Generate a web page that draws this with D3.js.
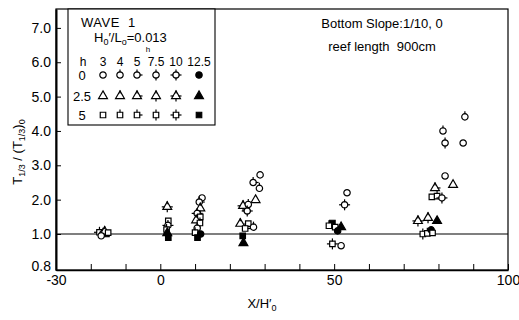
<!DOCTYPE html>
<html>
<head>
<meta charset="utf-8">
<script src="https://cdn.jsdelivr.net/npm/d3@7"></script>
<style>
  body { margin: 0; background: #fff; }
  svg { font-family: "Liberation Sans", Arial, sans-serif; }
  .axis path, .axis line { stroke: #000; }
  .axis text { font-size: 14px; fill: #000; }
</style>
</head>
<body>
<div id="chart"></div>
<script>
// plot frame in page pixels
var plotLeft = 56, plotRight = 508, plotTop = 9, plotBottom = 270

// tick labels
var xTickValues = [-30, -20, -10, 0, 10, 20, 30, 40, 50, 60, 70, 80, 90, 100]
var xTickLabels = { "-30": "-30", "0": "0", "50": "50", "100": "100" }
var yTickValues = [0.8, 1, 2, 3, 4, 5, 6, 7]
var yTickLabels = ["0.8", "1.0", "2.0", "3.0", "4.0", "5.0", "6.0", "7.0"]

// legend categories: rows = h (shape), columns = h (mark style)
var rowLabels = ["0", "2.5", "5"]
var colLabels = ["3", "4", "5", "7.5", "10", "12.5"]

// data: X/H0', T1/3/(T1/3)0, row index, column index
var xVals = [
  -17.5, -16.5, -15.5, -16, -17, -15,
  2, 2.3, 2.2, 1.8, 2, 2.3,
  12, 11.2, 11.5, 10.6, 11.5, 10.3, 11.4, 10.6, 10, 11.6, 10.7,
  28.7, 26.7, 28.5, 27.4, 23.8, 25.3, 25, 23, 25.3, 26.8, 24.4, 23.7, 23.9,
  53.7, 53, 49.5, 48.5, 50.3, 52, 51, 49.5, 52,
  87.6, 81.3, 81.9, 87.1, 81.9, 84.2, 79, 78.1, 79.6, 81, 74.1, 77, 79.6, 75.5, 76.8, 77.9, 78.3
]
var yVals = [
  1.05, 1.02, 1.0, 1.07, 0.99, 1.04,
  1.79, 1.38, 1.25, 1.13, 1.03, 0.98,
  2.05, 1.93, 1.75, 1.6, 1.5, 1.4, 1.32, 1.17, 1.04, 1.0, 0.98,
  2.72, 2.5, 2.33, 1.99, 1.82, 1.86, 1.67, 1.3, 1.3, 1.2, 1.16, 0.99, 0.95,
  2.2, 1.85, 1.32, 1.24, 1.2, 1.2, 1.09, 0.945, 0.935,
  4.41, 4.0, 3.65, 3.65, 2.69, 2.43, 2.34, 2.08, 2.1, 2.05, 1.38, 1.47, 1.38, 1.0, 1.02, 1.12, 1.03
]
var rowIdx = [
  2, 0, 2, 1, 0, 2,
  1, 2, 0, 2, 1, 2,
  0, 0, 1, 0, 2, 1, 2, 0, 2, 0, 2,
  0, 0, 0, 1, 1, 0, 0, 1, 2, 0, 2, 2, 1,
  0, 0, 2, 2, 2, 1, 0, 2, 0,
  0, 0, 0, 0, 0, 1, 1, 2, 2, 0, 1, 1, 1, 2, 2, 0, 2
]
var colIdx = [
  4, 2, 5, 3, 0, 0,
  4, 0, 4, 3, 5, 5,
  0, 2, 3, 4, 0, 1, 3, 3, 1, 5, 5,
  0, 2, 1, 0, 4, 3, 4, 1, 0, 1, 2, 5, 5,
  0, 4, 5, 1, 0, 5, 5, 4, 0,
  1, 1, 3, 0, 0, 0, 2, 0, 1, 4, 4, 3, 5, 3, 1, 5, 0
]

var svg = d3.select("#chart").append("svg")
    .attr("width", 519)
    .attr("height", 320)

var xScale = d3.scaleLinear().domain([-30, 100]).range([plotLeft, plotRight])
// broken scale: 0.8 sits at the bottom, then linear from 1.0 upwards
var yScale = d3.scaleLinear().domain([0.8, 1.0, 7.55]).range([plotBottom, 234, plotTop])

// frame
svg.append("rect")
  .attr("x", plotLeft).attr("y", plotTop)
  .attr("width", plotRight - plotLeft).attr("height", plotBottom - plotTop)
  .attr("fill", "none").attr("stroke", "#000").attr("stroke-width", 1.2)

// reference line at 1.0
svg.append("line")
  .attr("x1", plotLeft).attr("x2", plotRight)
  .attr("y1", yScale(1)).attr("y2", yScale(1))
  .attr("stroke", "#000").attr("stroke-width", 1.1)

var xAxis = d3.axisBottom(xScale)
  .tickValues(xTickValues)
  .tickSizeInner(-6).tickSizeOuter(0).tickPadding(5)
  .tickFormat(function(d) { return xTickLabels[d] || "" })
svg.append("g").attr("class", "axis x-axis")
  .attr("transform", "translate(0," + plotBottom + ")")
  .call(xAxis)
  .select(".domain").attr("stroke-width", 1.6)

var yAxis = d3.axisLeft(yScale)
  .tickValues(yTickValues)
  .tickSizeInner(-5).tickSizeOuter(0).tickPadding(5)
  .tickFormat(function(d, i) { return yTickLabels[i] })
var yAxisG = svg.append("g").attr("class", "axis y-axis")
  .attr("transform", "translate(" + plotLeft + ",0)")
  .call(yAxis)
yAxisG.select(".domain").attr("stroke-width", 2)
// the 0.8 label sits a little above the corner so it clears "-30"
yAxisG.selectAll(".tick text").filter(function(d) { return d === 0.8 })
  .attr("y", -4)

// axis titles
var yTitle = svg.append("text")
  .attr("transform", "translate(22,152) rotate(-90)")
  .attr("text-anchor", "middle")
  .attr("font-size", 13)
yTitle.append("tspan").text("T")
yTitle.append("tspan").attr("font-size", 9).attr("dy", 3).text("1/3")
yTitle.append("tspan").attr("dy", -3).text(" / (T")
yTitle.append("tspan").attr("font-size", 9).attr("dy", 3).text("1/3")
yTitle.append("tspan").attr("dy", -3).text(")")
yTitle.append("tspan").attr("font-size", 9).attr("dy", 3).text("0")

var xTitle = svg.append("text")
  .attr("x", 262).attr("y", 308)
  .attr("text-anchor", "middle")
  .attr("font-size", 13)
xTitle.append("tspan").text("X/H\u2032")
xTitle.append("tspan").attr("font-size", 9).attr("dy", 3).text("0")

// notes at top right
svg.append("text").attr("x", 382).attr("y", 28)
  .attr("text-anchor", "middle").attr("font-size", 13)
  .text("Bottom Slope:1/10, 0")
svg.append("text").attr("x", 382).attr("y", 51)
  .attr("text-anchor", "middle").attr("font-size", 13)
  .attr("xml:space", "preserve")
  .text("reef length  900cm")

// marker drawing
var shapeTypes = [d3.symbolCircle, d3.symbolTriangle, d3.symbolSquare]
var shapeSize = [32, 34, 30]
var tickDirs = [
  [],
  [[0, -1]],
  [[0, -1], [1, 0]],
  [[0, -1], [0, 1]],
  [[0, -1], [0, 1], [-1, 0], [1, 0]],
  []
]

function drawMarker(parent, cx, cy, row, col) {
  var g = parent.append("g").attr("transform", "translate(" + cx + "," + cy + ")")
  g.append("path")
    .attr("d", d3.symbol().type(shapeTypes[row]).size(shapeSize[row])())
    .attr("fill", col === 5 ? "#000" : "#fff")
    .attr("stroke", "#000")
    .attr("stroke-width", 1.2)
  tickDirs[col].forEach(function(t) {
    g.append("line")
      .attr("x1", t[0] * 2.5).attr("y1", t[1] * 2.5)
      .attr("x2", t[0] * 5.5).attr("y2", t[1] * 5.5)
      .attr("stroke", "#000").attr("stroke-width", 1.2)
  })
}

var points = svg.append("g").attr("class", "points")
xVals.forEach(function(x, i) {
  drawMarker(points, xScale(x), yScale(yVals[i]), rowIdx[i], colIdx[i])
})

// legend
var legend = svg.append("g").attr("class", "legend")
legend.append("rect")
  .attr("x", 68).attr("y", plotTop).attr("width", 147).attr("height", 116)
  .attr("fill", "#fff").attr("stroke", "#000").attr("stroke-width", 1.1)
legend.append("text").attr("x", 81).attr("y", 27)
  .attr("font-size", 13).attr("letter-spacing", 0.5)
  .attr("xml:space", "preserve").text("WAVE  1")
var hl = legend.append("text").attr("x", 94).attr("y", 42).attr("font-size", 13)
hl.append("tspan").text("H")
hl.append("tspan").attr("font-size", 9).attr("dy", 3).text("0")
hl.append("tspan").attr("dy", -3).text("\u2032/L")
hl.append("tspan").attr("font-size", 9).attr("dy", 3).text("o")
hl.append("tspan").attr("dy", -3).text("=0.013")
legend.append("text").attr("x", 148).attr("y", 52)
  .attr("text-anchor", "middle").attr("font-size", 8).text("h")

var colX = [103, 120, 137, 156, 176, 199]
var rowY = [75, 96, 115]
legend.append("text").attr("x", 83).attr("y", 66)
  .attr("text-anchor", "middle").attr("font-size", 12).text("h")
colLabels.forEach(function(c, j) {
  legend.append("text").attr("x", colX[j]).attr("y", 66)
    .attr("text-anchor", "middle").attr("font-size", 12).text(c)
})
rowLabels.forEach(function(r, i) {
  legend.append("text").attr("x", 82).attr("y", rowY[i] + 5)
    .attr("text-anchor", "middle").attr("font-size", 13).text(r)
  colLabels.forEach(function(c, j) {
    drawMarker(legend, colX[j], rowY[i], i, j)
  })
})
</script>
</body>
</html>
